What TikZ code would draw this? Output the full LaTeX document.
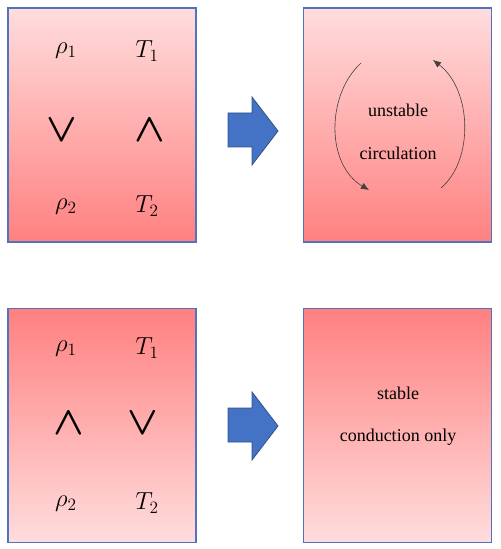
\RequirePackage{fix-cm}
\documentclass[tikz,border=0pt]{standalone}
\usepackage{fontspec}
\usetikzlibrary{arrows.meta}
\setmainfont{Liberation Serif}
\definecolor{boxedge}{RGB}{79,115,190}
\definecolor{pinklight}{RGB}{255,221,221}
\definecolor{pinkdark}{RGB}{255,128,128}
\definecolor{arrowfill}{RGB}{68,114,196}
\definecolor{arrowedge}{RGB}{47,82,143}
\begin{document}
\begin{tikzpicture}[x=0.75pt,y=-0.75pt,
  panel/.style={draw=boxedge,line width=0.9pt,rectangle,minimum width=141pt,minimum height=175.5pt,inner sep=0pt},
  warmdown/.style={panel,top color=pinklight,bottom color=pinkdark},
  warmup/.style={panel,top color=pinkdark,bottom color=pinklight},
  mathlbl/.style={font=\fontsize{18.5}{21}\selectfont,inner sep=0pt},
  rel/.style={font=\fontsize{30}{32}\selectfont\boldmath,inner sep=0pt},
  caption/.style={font=\fontsize{13.5}{16}\selectfont,inner sep=0pt},
  blockarrow/.style={fill=arrowfill,draw=arrowedge,line width=0.6pt},
  circ/.style={draw=black!75,line width=0.45pt,-{Latex[length=6pt,width=5pt]}}]
\useasboundingbox (0,0) rectangle (500,549);
% panels
\node[warmdown] (tl) at (102,125) {};
\node[warmdown] (tr) at (397.5,125) {};
\node[warmup] (bl) at (102,425.5) {};
\node[warmup] (br) at (397.5,425.5) {};
% top-left labels
\node[mathlbl] (r1a) at (66,51) {$\rho_1$};
\node[mathlbl] (t1a) at (147,51) {$T_1$};
\node[rel] (v1) at (62,130) {$\vee$};
\node[rel] (w1) at (150,130) {$\wedge$};
\node[mathlbl] (r2a) at (66,207) {$\rho_2$};
\node[mathlbl] (t2a) at (147,206) {$T_2$};
% bottom-left labels
\node[mathlbl] (r1b) at (66,349) {$\rho_1$};
\node[mathlbl] (t1b) at (147,348) {$T_1$};
\node[rel] (w2) at (69,423) {$\wedge$};
\node[rel] (v2) at (143,423) {$\vee$};
\node[mathlbl] (r2b) at (66,504) {$\rho_2$};
\node[mathlbl] (t2b) at (147,503) {$T_2$};
% block arrows
\draw[blockarrow] (228,113) -- (252,113) -- (252,97) -- (278,131) -- (252,165) -- (252,147) -- (228,147) -- cycle;
\draw[blockarrow] (228,408) -- (252,408) -- (252,392) -- (278,426) -- (252,460) -- (252,442) -- (228,442) -- cycle;
% top-right content
\node[caption] (uns) at (398,110) {unstable};
\node[caption] (circl) at (398,153) {circulation};
\coordinate (la) at (361,63);
\coordinate (lb) at (369,190);
\coordinate (ra) at (441,188);
\coordinate (rb) at (433,60);
\draw[circ] (la) .. controls (326,95) and (326,165) .. (lb);
\draw[circ] (ra) .. controls (474,160) and (472,90) .. (rb);
% bottom-right content
\node[caption] (stb) at (398,393) {stable};
\node[caption] (cond) at (398,437) {conduction only};
\end{tikzpicture}
\end{document}
